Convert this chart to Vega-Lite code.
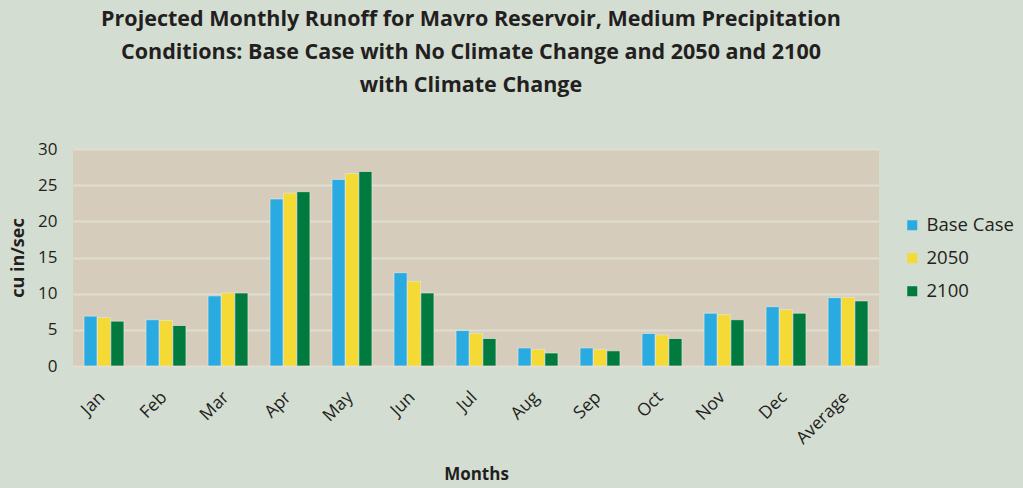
{
  "$schema": "https://vega.github.io/schema/vega-lite/v6.json",
  "width": 806,
  "height": 217,
  "autosize": {"type": "none"},
  "padding": {"left": 73, "top": 149, "right": 144, "bottom": 122},
  "background": "#D4DDD2",
  "title": {
    "text": ["Projected Monthly Runoff for Mavro Reservoir, Medium Precipitation", "Conditions: Base Case with No Climate Change and 2050 and 2100", "with Climate Change"],
    "font": "Open Sans",
    "fontSize": 21.5,
    "fontWeight": "bold",
    "color": "#231F20",
    "lineHeight": 33,
    "anchor": "middle",
    "frame": "group",
    "dx": -5,
    "offset": 44
  },
  "data": {
    "values": [
      {"month": "Jan", "series": "Base Case", "value": 6.9},
      {"month": "Jan", "series": "2050", "value": 6.7},
      {"month": "Jan", "series": "2100", "value": 6.2},
      {"month": "Feb", "series": "Base Case", "value": 6.4},
      {"month": "Feb", "series": "2050", "value": 6.3},
      {"month": "Feb", "series": "2100", "value": 5.6},
      {"month": "Mar", "series": "Base Case", "value": 9.7},
      {"month": "Mar", "series": "2050", "value": 10.1},
      {"month": "Mar", "series": "2100", "value": 10.1},
      {"month": "Apr", "series": "Base Case", "value": 23.1},
      {"month": "Apr", "series": "2050", "value": 23.9},
      {"month": "Apr", "series": "2100", "value": 24.1},
      {"month": "May", "series": "Base Case", "value": 25.8},
      {"month": "May", "series": "2050", "value": 26.6},
      {"month": "May", "series": "2100", "value": 26.9},
      {"month": "Jun", "series": "Base Case", "value": 12.9},
      {"month": "Jun", "series": "2050", "value": 11.7},
      {"month": "Jun", "series": "2100", "value": 10.1},
      {"month": "Jul", "series": "Base Case", "value": 4.9},
      {"month": "Jul", "series": "2050", "value": 4.5},
      {"month": "Jul", "series": "2100", "value": 3.8},
      {"month": "Aug", "series": "Base Case", "value": 2.5},
      {"month": "Aug", "series": "2050", "value": 2.3},
      {"month": "Aug", "series": "2100", "value": 1.8},
      {"month": "Sep", "series": "Base Case", "value": 2.5},
      {"month": "Sep", "series": "2050", "value": 2.3},
      {"month": "Sep", "series": "2100", "value": 2.1},
      {"month": "Oct", "series": "Base Case", "value": 4.5},
      {"month": "Oct", "series": "2050", "value": 4.3},
      {"month": "Oct", "series": "2100", "value": 3.8},
      {"month": "Nov", "series": "Base Case", "value": 7.3},
      {"month": "Nov", "series": "2050", "value": 7.1},
      {"month": "Nov", "series": "2100", "value": 6.4},
      {"month": "Dec", "series": "Base Case", "value": 8.2},
      {"month": "Dec", "series": "2050", "value": 7.8},
      {"month": "Dec", "series": "2100", "value": 7.3},
      {"month": "Average", "series": "Base Case", "value": 9.45},
      {"month": "Average", "series": "2050", "value": 9.5},
      {"month": "Average", "series": "2100", "value": 9.0}
    ]
  },
  "mark": {"type": "bar", "stroke": "#E4E6D8", "strokeWidth": 1, "strokeOpacity": 0.7},
  "encoding": {
    "x": {
      "field": "month",
      "type": "nominal",
      "sort": null,
      "scale": {"paddingInner": 0.355, "paddingOuter": 0.177},
      "axis": {
        "title": "Months",
        "titleFont": "Open Sans",
        "titleFontSize": 17,
        "titleFontWeight": "bold",
        "titleColor": "#231F20",
        "titlePadding": 20,
        "labelAngle": -45,
        "labelAlign": "right",
        "labelBaseline": "top",
        "labelFont": "Open Sans",
        "labelFontSize": 17.5,
        "labelColor": "#231F20",
        "labelPadding": 22,
        "labelOffset": -8,
        "ticks": false,
        "domain": false,
        "grid": false
      }
    },
    "xOffset": {"field": "series", "type": "nominal", "sort": ["Base Case", "2050", "2100"], "scale": {"paddingInner": 0.02}},
    "y": {
      "field": "value",
      "type": "quantitative",
      "scale": {"domain": [0, 30], "nice": false},
      "axis": {
        "title": "cu in/sec",
        "titleFont": "Open Sans",
        "titleFontSize": 18,
        "titleFontWeight": "bold",
        "titleColor": "#231F20",
        "titlePadding": 10,
        "values": [0, 5, 10, 15, 20, 25, 30],
        "labelFont": "Open Sans",
        "labelFontSize": 17,
        "labelColor": "#231F20",
        "labelPadding": 16,
        "ticks": false,
        "domain": false,
        "grid": true,
        "gridColor": "#E0DED0",
        "gridWidth": 2
      }
    },
    "color": {
      "field": "series",
      "type": "nominal",
      "sort": ["Base Case", "2050", "2100"],
      "scale": {"domain": ["Base Case", "2050", "2100"], "range": ["#29ABE2", "#F5D934", "#007A3E"]},
      "legend": {
        "title": null,
        "orient": "none",
        "legendX": 830,
        "legendY": 67,
        "symbolType": "square",
        "symbolSize": 100,
        "symbolStrokeWidth": 0,
        "labelFont": "Open Sans",
        "labelFontSize": 18.5,
        "labelColor": "#231F20",
        "rowPadding": 14,
        "labelOffset": 5
      }
    }
  },
  "config": {
    "view": {"fill": "#D5CCBB", "stroke": null}
  }
}
